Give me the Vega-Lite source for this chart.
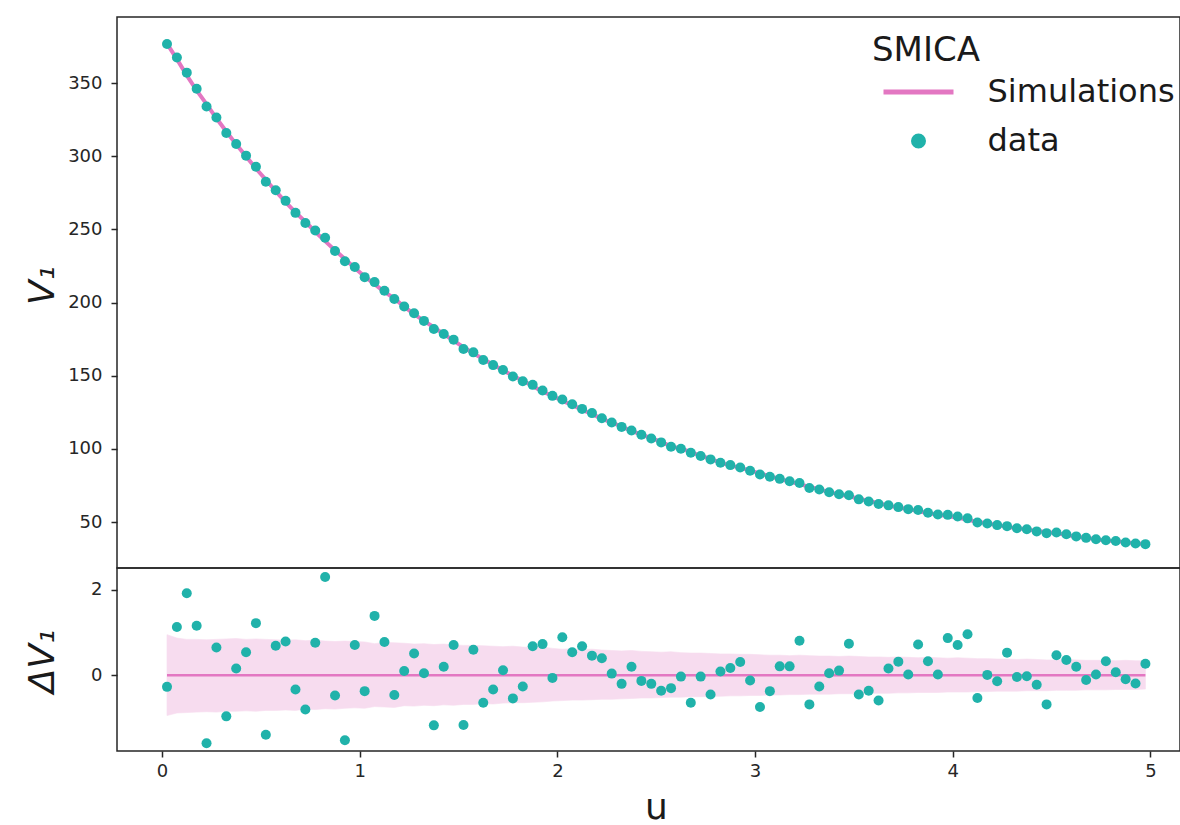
{
  "$schema": "https://vega.github.io/schema/vega-lite/v6.json",
  "padding": {"left": 23, "top": 16, "right": 0, "bottom": 0},
  "background": "white",
  "spacing": 0,
  "bounds": "flush",
  "config": {
    "font": "DejaVu Sans",
    "view": {"stroke": "#262626", "strokeWidth": 1.5},
    "axis": {
      "labelFont": "DejaVu Sans", "labelFontSize": 18, "labelColor": "#262626",
      "tickColor": "#262626", "tickWidth": 1.5, "tickSize": 6, "labelPadding": 9,
      "grid": false, "domain": false,
      "titleFont": "DejaVu Sans", "titleFontWeight": "normal", "titleColor": "#1a1a1a"
    }
  },
  "datasets": {
    "top": [
      {"u":0.025,"sim":376.9,"data":376.6},{"u":0.075,"sim":366.3,"data":367.4},{"u":0.125,"sim":355.2,"data":357.1},{"u":0.175,"sim":344.9,"data":346.1},{"u":0.225,"sim":335.6,"data":334.0},
      {"u":0.275,"sim":325.9,"data":326.5},{"u":0.325,"sim":316.9,"data":315.9},{"u":0.375,"sim":308.1,"data":308.3},{"u":0.425,"sim":299.9,"data":300.4},{"u":0.475,"sim":291.6,"data":292.8},
      {"u":0.525,"sim":283.9,"data":282.5},{"u":0.575,"sim":276.1,"data":276.8},{"u":0.625,"sim":268.7,"data":269.5},{"u":0.675,"sim":261.6,"data":261.3},{"u":0.725,"sim":255.2,"data":254.4},
      {"u":0.775,"sim":248.4,"data":249.2},{"u":0.825,"sim":242.0,"data":244.3},{"u":0.875,"sim":235.7,"data":235.2},{"u":0.925,"sim":229.8,"data":228.3},{"u":0.975,"sim":223.6,"data":224.3},
      {"u":1.025,"sim":217.8,"data":217.4},{"u":1.075,"sim":212.6,"data":214.0},{"u":1.125,"sim":207.3,"data":208.1},{"u":1.175,"sim":202.9,"data":202.4},{"u":1.225,"sim":197.2,"data":197.3},
      {"u":1.275,"sim":192.2,"data":192.7},{"u":1.325,"sim":187.5,"data":187.5},{"u":1.375,"sim":183.2,"data":182.0},{"u":1.425,"sim":178.4,"data":178.6},{"u":1.475,"sim":174.0,"data":174.7},
      {"u":1.525,"sim":169.5,"data":168.3},{"u":1.575,"sim":165.4,"data":166.0},{"u":1.625,"sim":161.4,"data":160.8},{"u":1.675,"sim":157.6,"data":157.3},{"u":1.725,"sim":153.8,"data":153.9},
      {"u":1.775,"sim":150.0,"data":149.5},{"u":1.825,"sim":146.6,"data":146.3},{"u":1.875,"sim":143.1,"data":143.8},{"u":1.925,"sim":139.2,"data":139.9},{"u":1.975,"sim":136.4,"data":136.3},
      {"u":2.025,"sim":132.9,"data":133.8},{"u":2.075,"sim":130.1,"data":130.6},{"u":2.125,"sim":126.7,"data":127.4},{"u":2.175,"sim":124.0,"data":124.5},{"u":2.225,"sim":120.6,"data":121.0},
      {"u":2.275,"sim":118.1,"data":118.1},{"u":2.325,"sim":115.3,"data":115.1},{"u":2.375,"sim":112.4,"data":112.6},{"u":2.425,"sim":109.8,"data":109.7},{"u":2.475,"sim":107.4,"data":107.2},
      {"u":2.525,"sim":104.9,"data":104.5},{"u":2.575,"sim":101.8,"data":101.5},{"u":2.625,"sim":100.2,"data":100.2},{"u":2.675,"sim":98.0,"data":97.4},{"u":2.725,"sim":95.2,"data":95.2},
      {"u":2.775,"sim":93.4,"data":92.9},{"u":2.825,"sim":90.5,"data":90.6},{"u":2.875,"sim":88.8,"data":89.0},{"u":2.925,"sim":87.1,"data":87.4},{"u":2.975,"sim":85.2,"data":85.1},
      {"u":3.025,"sim":83.3,"data":82.6},{"u":3.075,"sim":81.4,"data":81.0},{"u":3.125,"sim":79.4,"data":79.6},{"u":3.175,"sim":77.8,"data":78.0},{"u":3.225,"sim":76.0,"data":76.8},
      {"u":3.275,"sim":74.1,"data":73.4},{"u":3.325,"sim":72.6,"data":72.3},{"u":3.375,"sim":70.5,"data":70.5},{"u":3.425,"sim":69.0,"data":69.1},{"u":3.475,"sim":67.7,"data":68.4},
      {"u":3.525,"sim":66.1,"data":65.6},{"u":3.575,"sim":64.5,"data":64.1},{"u":3.625,"sim":63.0,"data":62.4},{"u":3.675,"sim":61.3,"data":61.5},{"u":3.725,"sim":60.0,"data":60.3},
      {"u":3.775,"sim":58.9,"data":58.9},{"u":3.825,"sim":57.6,"data":58.3},{"u":3.875,"sim":56.1,"data":56.4},{"u":3.925,"sim":55.3,"data":55.3},{"u":3.975,"sim":54.1,"data":55.0},
      {"u":4.025,"sim":53.2,"data":53.9},{"u":4.075,"sim":51.6,"data":52.6},{"u":4.125,"sim":50.3,"data":49.8},{"u":4.175,"sim":49.1,"data":49.1},{"u":4.225,"sim":48.1,"data":48.0},
      {"u":4.275,"sim":46.8,"data":47.3},{"u":4.325,"sim":45.9,"data":45.9},{"u":4.375,"sim":45.2,"data":45.2},{"u":4.425,"sim":43.9,"data":43.7},{"u":4.475,"sim":43.2,"data":42.5},
      {"u":4.525,"sim":42.5,"data":43.0},{"u":4.575,"sim":41.4,"data":41.8},{"u":4.625,"sim":40.1,"data":40.3},{"u":4.675,"sim":39.4,"data":39.3},{"u":4.725,"sim":38.4,"data":38.4},
      {"u":4.775,"sim":37.4,"data":37.7},{"u":4.825,"sim":37.1,"data":37.2},{"u":4.875,"sim":36.2,"data":36.1},{"u":4.925,"sim":35.6,"data":35.4},{"u":4.975,"sim":34.9,"data":35.0}
    ],
    "res": [
      {"u":0.025,"d":-0.27,"lo":-0.94,"hi":0.95},{"u":0.075,"d":1.13,"lo":-0.88,"hi":0.87},{"u":0.125,"d":1.92,"lo":-0.87,"hi":0.84},{"u":0.175,"d":1.16,"lo":-0.86,"hi":0.84},{"u":0.225,"d":-1.59,"lo":-0.85,"hi":0.83},
      {"u":0.275,"d":0.65,"lo":-0.86,"hi":0.84},{"u":0.325,"d":-0.96,"lo":-0.84,"hi":0.85},{"u":0.375,"d":0.16,"lo":-0.84,"hi":0.86},{"u":0.425,"d":0.54,"lo":-0.83,"hi":0.84},{"u":0.475,"d":1.22,"lo":-0.84,"hi":0.85},
      {"u":0.525,"d":-1.39,"lo":-0.82,"hi":0.84},{"u":0.575,"d":0.69,"lo":-0.82,"hi":0.83},{"u":0.625,"d":0.79,"lo":-0.81,"hi":0.82},{"u":0.675,"d":-0.33,"lo":-0.82,"hi":0.83},{"u":0.725,"d":-0.80,"lo":-0.79,"hi":0.81},
      {"u":0.775,"d":0.76,"lo":-0.80,"hi":0.82},{"u":0.825,"d":2.30,"lo":-0.78,"hi":0.80},{"u":0.875,"d":-0.47,"lo":-0.79,"hi":0.79},{"u":0.925,"d":-1.52,"lo":-0.77,"hi":0.80},{"u":0.975,"d":0.71,"lo":-0.76,"hi":0.79},
      {"u":1.025,"d":-0.37,"lo":-0.77,"hi":0.78},{"u":1.075,"d":1.39,"lo":-0.73,"hi":0.74},{"u":1.125,"d":0.78,"lo":-0.74,"hi":0.77},{"u":1.175,"d":-0.46,"lo":-0.75,"hi":0.76},{"u":1.225,"d":0.10,"lo":-0.71,"hi":0.75},
      {"u":1.275,"d":0.51,"lo":-0.72,"hi":0.73},{"u":1.325,"d":0.05,"lo":-0.70,"hi":0.74},{"u":1.375,"d":-1.17,"lo":-0.71,"hi":0.72},{"u":1.425,"d":0.20,"lo":-0.69,"hi":0.73},{"u":1.475,"d":0.71,"lo":-0.70,"hi":0.71},
      {"u":1.525,"d":-1.16,"lo":-0.68,"hi":0.70},{"u":1.575,"d":0.60,"lo":-0.68,"hi":0.70},{"u":1.625,"d":-0.64,"lo":-0.66,"hi":0.69},{"u":1.675,"d":-0.33,"lo":-0.67,"hi":0.68},{"u":1.725,"d":0.12,"lo":-0.65,"hi":0.67},
      {"u":1.775,"d":-0.54,"lo":-0.64,"hi":0.68},{"u":1.825,"d":-0.26,"lo":-0.64,"hi":0.66},{"u":1.875,"d":0.68,"lo":-0.63,"hi":0.65},{"u":1.925,"d":0.73,"lo":-0.62,"hi":0.66},{"u":1.975,"d":-0.06,"lo":-0.60,"hi":0.63},
      {"u":2.025,"d":0.89,"lo":-0.59,"hi":0.61},{"u":2.075,"d":0.54,"lo":-0.58,"hi":0.62},{"u":2.125,"d":0.68,"lo":-0.58,"hi":0.60},{"u":2.175,"d":0.46,"lo":-0.57,"hi":0.61},{"u":2.225,"d":0.40,"lo":-0.56,"hi":0.59},
      {"u":2.275,"d":0.04,"lo":-0.56,"hi":0.58},{"u":2.325,"d":-0.20,"lo":-0.55,"hi":0.57},{"u":2.375,"d":0.20,"lo":-0.54,"hi":0.58},{"u":2.425,"d":-0.13,"lo":-0.53,"hi":0.56},{"u":2.475,"d":-0.20,"lo":-0.53,"hi":0.55},
      {"u":2.525,"d":-0.36,"lo":-0.52,"hi":0.54},{"u":2.575,"d":-0.30,"lo":-0.51,"hi":0.55},{"u":2.625,"d":-0.03,"lo":-0.51,"hi":0.53},{"u":2.675,"d":-0.64,"lo":-0.50,"hi":0.52},{"u":2.725,"d":-0.03,"lo":-0.50,"hi":0.52},
      {"u":2.775,"d":-0.45,"lo":-0.49,"hi":0.51},{"u":2.825,"d":0.09,"lo":-0.49,"hi":0.50},{"u":2.875,"d":0.17,"lo":-0.48,"hi":0.50},{"u":2.925,"d":0.31,"lo":-0.48,"hi":0.49},{"u":2.975,"d":-0.12,"lo":-0.47,"hi":0.49},
      {"u":3.025,"d":-0.74,"lo":-0.47,"hi":0.48},{"u":3.075,"d":-0.37,"lo":-0.46,"hi":0.47},{"u":3.125,"d":0.21,"lo":-0.46,"hi":0.47},{"u":3.175,"d":0.21,"lo":-0.45,"hi":0.46},{"u":3.225,"d":0.81,"lo":-0.45,"hi":0.47},
      {"u":3.275,"d":-0.68,"lo":-0.44,"hi":0.46},{"u":3.325,"d":-0.26,"lo":-0.44,"hi":0.45},{"u":3.375,"d":0.05,"lo":-0.44,"hi":0.45},{"u":3.425,"d":0.11,"lo":-0.43,"hi":0.44},{"u":3.475,"d":0.74,"lo":-0.43,"hi":0.45},
      {"u":3.525,"d":-0.45,"lo":-0.43,"hi":0.44},{"u":3.575,"d":-0.36,"lo":-0.42,"hi":0.43},{"u":3.625,"d":-0.59,"lo":-0.42,"hi":0.43},{"u":3.675,"d":0.16,"lo":-0.42,"hi":0.42},{"u":3.725,"d":0.32,"lo":-0.41,"hi":0.43},
      {"u":3.775,"d":0.02,"lo":-0.41,"hi":0.42},{"u":3.825,"d":0.72,"lo":-0.40,"hi":0.41},{"u":3.875,"d":0.33,"lo":-0.40,"hi":0.42},{"u":3.925,"d":0.02,"lo":-0.40,"hi":0.41},{"u":3.975,"d":0.87,"lo":-0.39,"hi":0.40},
      {"u":4.025,"d":0.71,"lo":-0.39,"hi":0.41},{"u":4.075,"d":0.96,"lo":-0.39,"hi":0.40},{"u":4.125,"d":-0.53,"lo":-0.38,"hi":0.39},{"u":4.175,"d":0.01,"lo":-0.38,"hi":0.39},{"u":4.225,"d":-0.14,"lo":-0.37,"hi":0.38},
      {"u":4.275,"d":0.53,"lo":-0.37,"hi":0.38},{"u":4.325,"d":-0.04,"lo":-0.37,"hi":0.37},{"u":4.375,"d":-0.02,"lo":-0.36,"hi":0.38},{"u":4.425,"d":-0.22,"lo":-0.36,"hi":0.37},{"u":4.475,"d":-0.68,"lo":-0.36,"hi":0.36},
      {"u":4.525,"d":0.47,"lo":-0.35,"hi":0.36},{"u":4.575,"d":0.36,"lo":-0.35,"hi":0.37},{"u":4.625,"d":0.20,"lo":-0.35,"hi":0.36},{"u":4.675,"d":-0.11,"lo":-0.34,"hi":0.35},{"u":4.725,"d":0.02,"lo":-0.34,"hi":0.35},
      {"u":4.775,"d":0.33,"lo":-0.34,"hi":0.35},{"u":4.825,"d":0.07,"lo":-0.33,"hi":0.34},{"u":4.875,"d":-0.09,"lo":-0.33,"hi":0.35},{"u":4.925,"d":-0.19,"lo":-0.33,"hi":0.34},{"u":4.975,"d":0.27,"lo":-0.32,"hi":0.34}
    ]
  },
  "vconcat": [
    {
      "width": 1063,
      "height": 551,
      "data": {"name": "top"},
      "layer": [
        {
          "mark": {"type": "line", "strokeWidth": 4, "color": "#e377c2"},
          "encoding": {
            "x": {"field": "u", "type": "quantitative", "scale": {"domain": [-0.228, 5.15], "nice": false, "zero": false}, "axis": null},
            "y": {"field": "sim", "type": "quantitative", "scale": {"domain": [18.7, 395.1], "nice": false, "zero": false},
                  "axis": {"values": [50, 100, 150, 200, 250, 300, 350], "format": "d", "title": "V₁", "titleFontSize": 36, "titleFontStyle": "italic",
                           "titleX": -64, "titleY": 268, "titleBaseline": "alphabetic", "titleAlign": "center", "titleAngle": -90}},
            "color": {"datum": "Simulations", "type": "nominal",
                      "scale": {"domain": ["Simulations", "data"], "range": ["#e377c2", "#20b2aa"]},
                      "legend": {
                        "orient": "none", "legendX": 755, "legendY": 17, "padding": 0,
                        "title": "SMICA", "titleFont": "DejaVu Sans", "titleFontSize": 34, "titleFontWeight": "normal", "titleColor": "#1a1a1a", "titlePadding": 8,
                        "labelFont": "DejaVu Sans", "labelFontSize": 32, "labelColor": "#1a1a1a", "labelOffset": 53, "labelLimit": 0,
                        "symbolSize": 100, "symbolStrokeWidth": 5, "symbolOffset": 30.5, "rowPadding": 17,
                        "encode": {"symbols": {"update": {
                          "shape": {"signal": "datum.label === 'Simulations' ? 'M-7,0H7' : 'circle'"},
                          "fill": {"signal": "datum.label === 'data' ? '#20b2aa' : 'transparent'"},
                          "stroke": {"signal": "datum.label === 'Simulations' ? '#e377c2' : 'transparent'"},
                          "strokeWidth": {"value": 5},
                          "opacity": {"value": 1}
                        }}}
                      }}
          }
        },
        {
          "mark": {"type": "point", "filled": true, "size": 100, "opacity": 1},
          "encoding": {
            "x": {"field": "u", "type": "quantitative"},
            "y": {"field": "data", "type": "quantitative"},
            "color": {"datum": "data", "type": "nominal"}
          }
        }
      ]
    },
    {
      "width": 1063,
      "height": 183,
      "data": {"name": "res"},
      "layer": [
        {
          "mark": {"type": "area", "color": "#e377c2", "opacity": 0.25, "stroke": "#e377c2", "strokeWidth": 1, "strokeOpacity": 0.6},
          "encoding": {
            "x": {"field": "u", "type": "quantitative", "scale": {"domain": [-0.228, 5.15], "nice": false, "zero": false},
                  "axis": {"values": [0, 1, 2, 3, 4, 5], "format": "d", "labelPadding": 5, "title": "u", "titleFontSize": 36,
                           "titleX": 539, "titleY": 67, "titleBaseline": "alphabetic", "titleAlign": "center"}},
            "y": {"field": "lo", "type": "quantitative", "scale": {"domain": [-1.77, 2.51], "nice": false, "zero": false},
                  "axis": {"values": [0, 2], "format": "d", "title": "ΔV₁", "titleFontSize": 36, "titleFontStyle": "italic",
                           "titleX": -64, "titleY": 93, "titleBaseline": "alphabetic", "titleAlign": "center", "titleAngle": -90}},
            "y2": {"field": "hi"}
          }
        },
        {
          "mark": {"type": "line", "strokeWidth": 2.5, "color": "#e377c2"},
          "encoding": {
            "x": {"field": "u", "type": "quantitative"},
            "y": {"datum": 0, "type": "quantitative"}
          }
        },
        {
          "mark": {"type": "point", "filled": true, "size": 100, "opacity": 1, "color": "#20b2aa"},
          "encoding": {
            "x": {"field": "u", "type": "quantitative"},
            "y": {"field": "d", "type": "quantitative"}
          }
        }
      ]
    }
  ]
}
